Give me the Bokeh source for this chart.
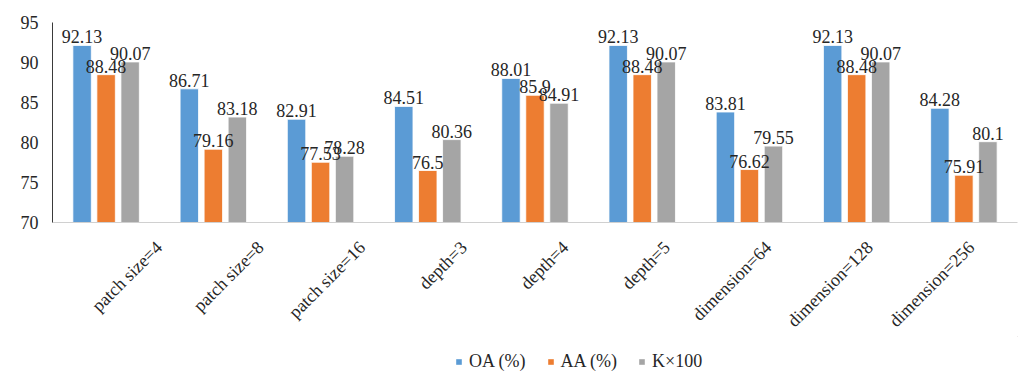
import math
from bokeh.plotting import figure
from bokeh.layouts import column
from bokeh.core.properties import value
from bokeh.models import ColumnDataSource, FactorRange, LabelSet, Legend, LegendItem, Range1d
from bokeh.transform import dodge
from bokeh.embed import file_html
from bokeh.resources import INLINE

# Ablation settings and scores
settings = ["patch size=4", "patch size=8", "patch size=16", "depth=3", "depth=4",
            "depth=5", "dimension=64", "dimension=128", "dimension=256"]
oa = [92.13, 86.71, 82.91, 84.51, 88.01, 92.13, 83.81, 92.13, 84.28]
aa = [88.48, 79.16, 77.53, 76.5, 85.9, 88.48, 76.62, 88.48, 75.91]
kappa = [90.07, 83.18, 78.28, 80.36, 84.91, 90.07, 79.55, 90.07, 80.1]
series_names = ["OA (%)", "AA (%)", "K×100"]
y_ticks = [70, 75, 80, 85, 90, 95]

FONT = "Liberation Serif"
TEXT = "#262626"
colors = ["#5B9BD5", "#ED7D31", "#A5A5A5"]
W = 1019
LEFT, RIGHT = 52, 2
NO_BORDER = dict(min_border_left=0, min_border_right=0, min_border_top=0, min_border_bottom=0)

source = ColumnDataSource(dict(
    x=settings, oa=oa, aa=aa, k=kappa,
    oa_t=[f"{v:g}" for v in oa], aa_t=[f"{v:g}" for v in aa], k_t=[f"{v:g}" for v in kappa],
))

# Bar panel
p = figure(
    x_range=FactorRange(*settings, range_padding=0),
    y_range=Range1d(70, 95),
    width=W, height=232,
    output_backend="svg", toolbar_location=None,
    min_border_left=LEFT, min_border_right=RIGHT, min_border_top=22, min_border_bottom=10,
)

offsets = [-0.224, 0.0, 0.224]
fields = ["oa", "aa", "k"]
for off, fld, col in zip(offsets, fields, colors):
    p.vbar(x=dodge("x", off, range=p.x_range), top=fld, bottom=70, width=0.172,
           source=source, fill_color=col, line_color="white", line_width=0.8)
    labels = LabelSet(x=dodge("x", off, range=p.x_range), y=fld, text=fld + "_t",
                      source=source, text_align="center", text_baseline="alphabetic",
                      y_offset=2, text_font=FONT, text_font_size="18px", text_color=TEXT)
    p.add_layout(labels)

p.grid.visible = False
p.outline_line_color = None

p.yaxis.ticker = y_ticks
p.yaxis.axis_line_color = "#3a3a3a"
p.yaxis.major_tick_out = 0
p.yaxis.major_tick_in = 0
p.yaxis.minor_tick_line_color = None
p.yaxis.major_label_standoff = 14
p.yaxis.major_label_text_font = FONT
p.yaxis.major_label_text_font_size = "18px"
p.yaxis.major_label_text_color = TEXT

p.xaxis.axis_line_color = "#d0d0d0"
p.xaxis.major_tick_out = 0
p.xaxis.major_tick_in = 0
p.xaxis.minor_tick_line_color = None
p.xaxis.major_label_standoff = 0
p.xaxis.major_label_text_font_size = "1px"
p.xaxis.major_label_text_alpha = 0

# Rotated category names in a full-width strip; one unit per category
n = len(settings)
cat_px = (W - LEFT - RIGHT) / n
strip_h = 104
strip = figure(width=W, height=strip_h, output_backend="svg", toolbar_location=None,
               x_range=Range1d(-LEFT / cat_px, n + RIGHT / cat_px), y_range=Range1d(0, strip_h),
               x_axis_location=None, y_axis_location=None,
               outline_line_color=None, **NO_BORDER)
strip.grid.visible = False
names = ColumnDataSource(dict(x=[i + 0.5 for i in range(n)], name=settings))
strip.text(x=dodge("x", 7 / cat_px), y=strip_h - 12, text="name", source=names,
           angle=math.pi / 4, text_align="right", text_baseline="middle",
           text_font=value(FONT), text_font_size="18px", text_color=TEXT)

# Legend strip; its swatch renderers sit outside the visible range
leg = figure(width=W, height=40, output_backend="svg", toolbar_location=None,
             x_range=Range1d(0, 1), y_range=Range1d(0, 1),
             x_axis_location=None, y_axis_location=None,
             outline_line_color=None, **NO_BORDER)
leg.grid.visible = False
hidden = ColumnDataSource(dict(x=[5], top=[5], bottom=[4]))
swatches = [leg.vbar(x="x", top="top", bottom="bottom", width=0.1, source=hidden,
                     fill_color=c, line_color=None)
            for c in colors]
legend = Legend(
    items=[LegendItem(label=nm, renderers=[r]) for nm, r in zip(series_names, swatches)],
    orientation="horizontal", location=(403, 4),
    label_text_font=FONT, label_text_font_size="18px", label_text_color=TEXT,
    glyph_width=7, glyph_height=7, label_standoff=7, spacing=21,
    label_height=18, label_text_baseline="middle",
    background_fill_alpha=0, border_line_alpha=0, padding=0, margin=0,
)
leg.add_layout(legend, "center")

open("out.html", "w").write(file_html(column(p, strip, leg), INLINE))
